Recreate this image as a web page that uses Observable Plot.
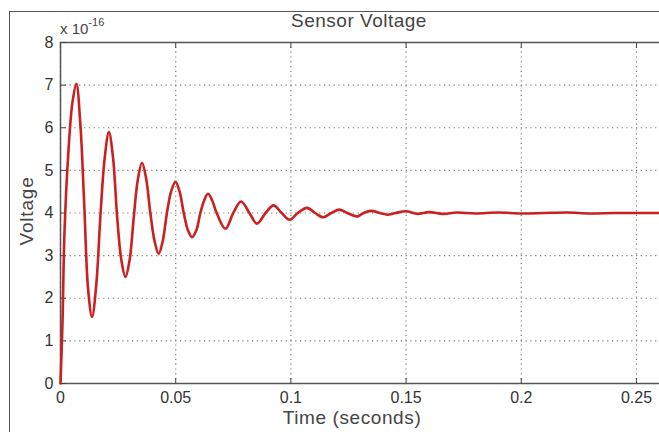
<!DOCTYPE html>
<html>
<head>
<meta charset="utf-8">
<script src="https://cdn.jsdelivr.net/npm/d3@7"></script>
<script src="https://cdn.jsdelivr.net/npm/@observablehq/plot@0.6"></script>
<style>
  html, body { margin: 0; padding: 0; background: #fff; }
  #wrap { position: relative; width: 659px; height: 432px; overflow: hidden; font-family: "Liberation Sans", Arial, sans-serif; color: #444; }
  #frame { position: absolute; left: 9px; top: 11px; right: -5px; bottom: -5px; border-left: 1.5px solid #555; border-top: 1.5px solid #555; }
  .t { position: absolute; white-space: nowrap; line-height: 1; }
  #title { left: 359px; top: 11px; transform: translateX(-50%); font-size: 19px; letter-spacing: 0.5px; }
  #xlab { left: 352px; top: 408px; transform: translateX(-50%); font-size: 19px; letter-spacing: 0.6px; }
  #ylab { left: 26px; top: 211px; transform: translate(-50%, -50%) rotate(-90deg); font-size: 19px; letter-spacing: 0.8px; }
  #expo { left: 60px; top: 19px; font-size: 15px; }
  #expo sup { font-size: 11px; position: relative; top: -2px; }
  svg { position: absolute; left: 0; top: 0; }
</style>
</head>
<body>
<div id="wrap">
  <div id="frame"></div>
  <div id="chart"></div>
  <div class="t" id="title">Sensor Voltage</div>
  <div class="t" id="xlab">Time (seconds)</div>
  <div class="t" id="ylab">Voltage</div>
  <div class="t" id="expo">x 10<sup>-16</sup></div>
</div>
<script>
// Time (seconds)
const time = [0, 0.0009, 0.0017, 0.0035, 0.0052, 0.0069, 0.0086, 0.0103, 0.012, 0.0137, 0.0155, 0.0174, 0.0192, 0.021, 0.0228, 0.0246, 0.0264, 0.0282, 0.03, 0.0318, 0.0336, 0.0354, 0.0372, 0.039, 0.0408, 0.0426, 0.0444, 0.0462, 0.048, 0.0499, 0.0517, 0.0535, 0.0553, 0.0571, 0.059, 0.0607, 0.0624, 0.064, 0.0658, 0.0678, 0.0716, 0.075, 0.0784, 0.082, 0.0853, 0.089, 0.0925, 0.096, 0.0995, 0.103, 0.107, 0.1105, 0.114, 0.1175, 0.121, 0.1245, 0.129, 0.1315, 0.135, 0.1385, 0.142, 0.1455, 0.15, 0.155, 0.16, 0.166, 0.172, 0.18, 0.19, 0.2, 0.21, 0.22, 0.23, 0.24, 0.25, 0.26];
// Voltage (x 1e-16)
const voltage = [0, 1.5, 3.5, 5.5, 6.6, 7.03, 6.1, 4.2, 2.2, 1.56, 2.3, 4.0, 5.3, 5.9, 5.3, 3.9, 2.9, 2.5, 2.9, 3.9, 4.8, 5.18, 4.8, 4.0, 3.35, 3.04, 3.35, 4.0, 4.5, 4.73, 4.5, 4.0, 3.6, 3.43, 3.6, 4.0, 4.3, 4.45, 4.3, 4.0, 3.63, 4.0, 4.27, 4.0, 3.75, 4.0, 4.18, 4.0, 3.84, 4.0, 4.12, 4.0, 3.9, 4.0, 4.08, 4.0, 3.92, 4.0, 4.05, 4.0, 3.96, 4.0, 4.04, 3.98, 4.02, 3.98, 4.01, 3.99, 4.01, 3.99, 4.0, 4.01, 3.99, 4.0, 4.0, 4.0];
const xTicks = [0, 0.05, 0.1, 0.15, 0.2, 0.25];
const xTickLabels = ["0", "0.05", "0.1", "0.15", "0.2", "0.25"];
const yTicks = [0, 1, 2, 3, 4, 5, 6, 7, 8];

const data = time.map((t, i) => ({t, v: voltage[i]}));

const chart = Plot.plot({
  width: 659,
  height: 432,
  marginLeft: 60,
  marginRight: 0,
  marginTop: 42,
  marginBottom: 49,
  style: {background: "transparent", fontFamily: "Liberation Sans, Arial, sans-serif", fontSize: "16px", color: "#333"},
  x: {domain: [0, 0.26]},
  y: {domain: [0, 8]},
  marks: [
    Plot.gridX(xTicks, {stroke: "#777", strokeOpacity: 1, strokeDasharray: "1.2,3.6", strokeWidth: 1.2}),
    Plot.gridY(yTicks, {stroke: "#777", strokeOpacity: 1, strokeDasharray: "1.2,3.6", strokeWidth: 1.2}),
    Plot.ruleY([0, 8], {stroke: "#555", strokeWidth: 1.5}),
    Plot.ruleX([0], {stroke: "#555", strokeWidth: 1.5}),
    Plot.axisX(xTicks, {anchor: "bottom", tickSize: -5, tickPadding: 13, tickFormat: (d, i) => xTickLabels[i], label: null, stroke: "#444", fontSize: 16, fill: "#333"}),
    Plot.axisX(xTicks, {anchor: "top", tickSize: -5, tickFormat: () => "", label: null, stroke: "#444"}),
    Plot.axisY(yTicks, {anchor: "left", tickSize: -6, tickPadding: 13, label: null, stroke: "#444", fontSize: 16, fill: "#333"}),
    Plot.line(data, {x: "t", y: "v", stroke: "#cc1f1f", strokeWidth: 2.6, curve: "catmull-rom"})
  ]
});
document.getElementById("chart").appendChild(chart);
</script>
</body>
</html>
